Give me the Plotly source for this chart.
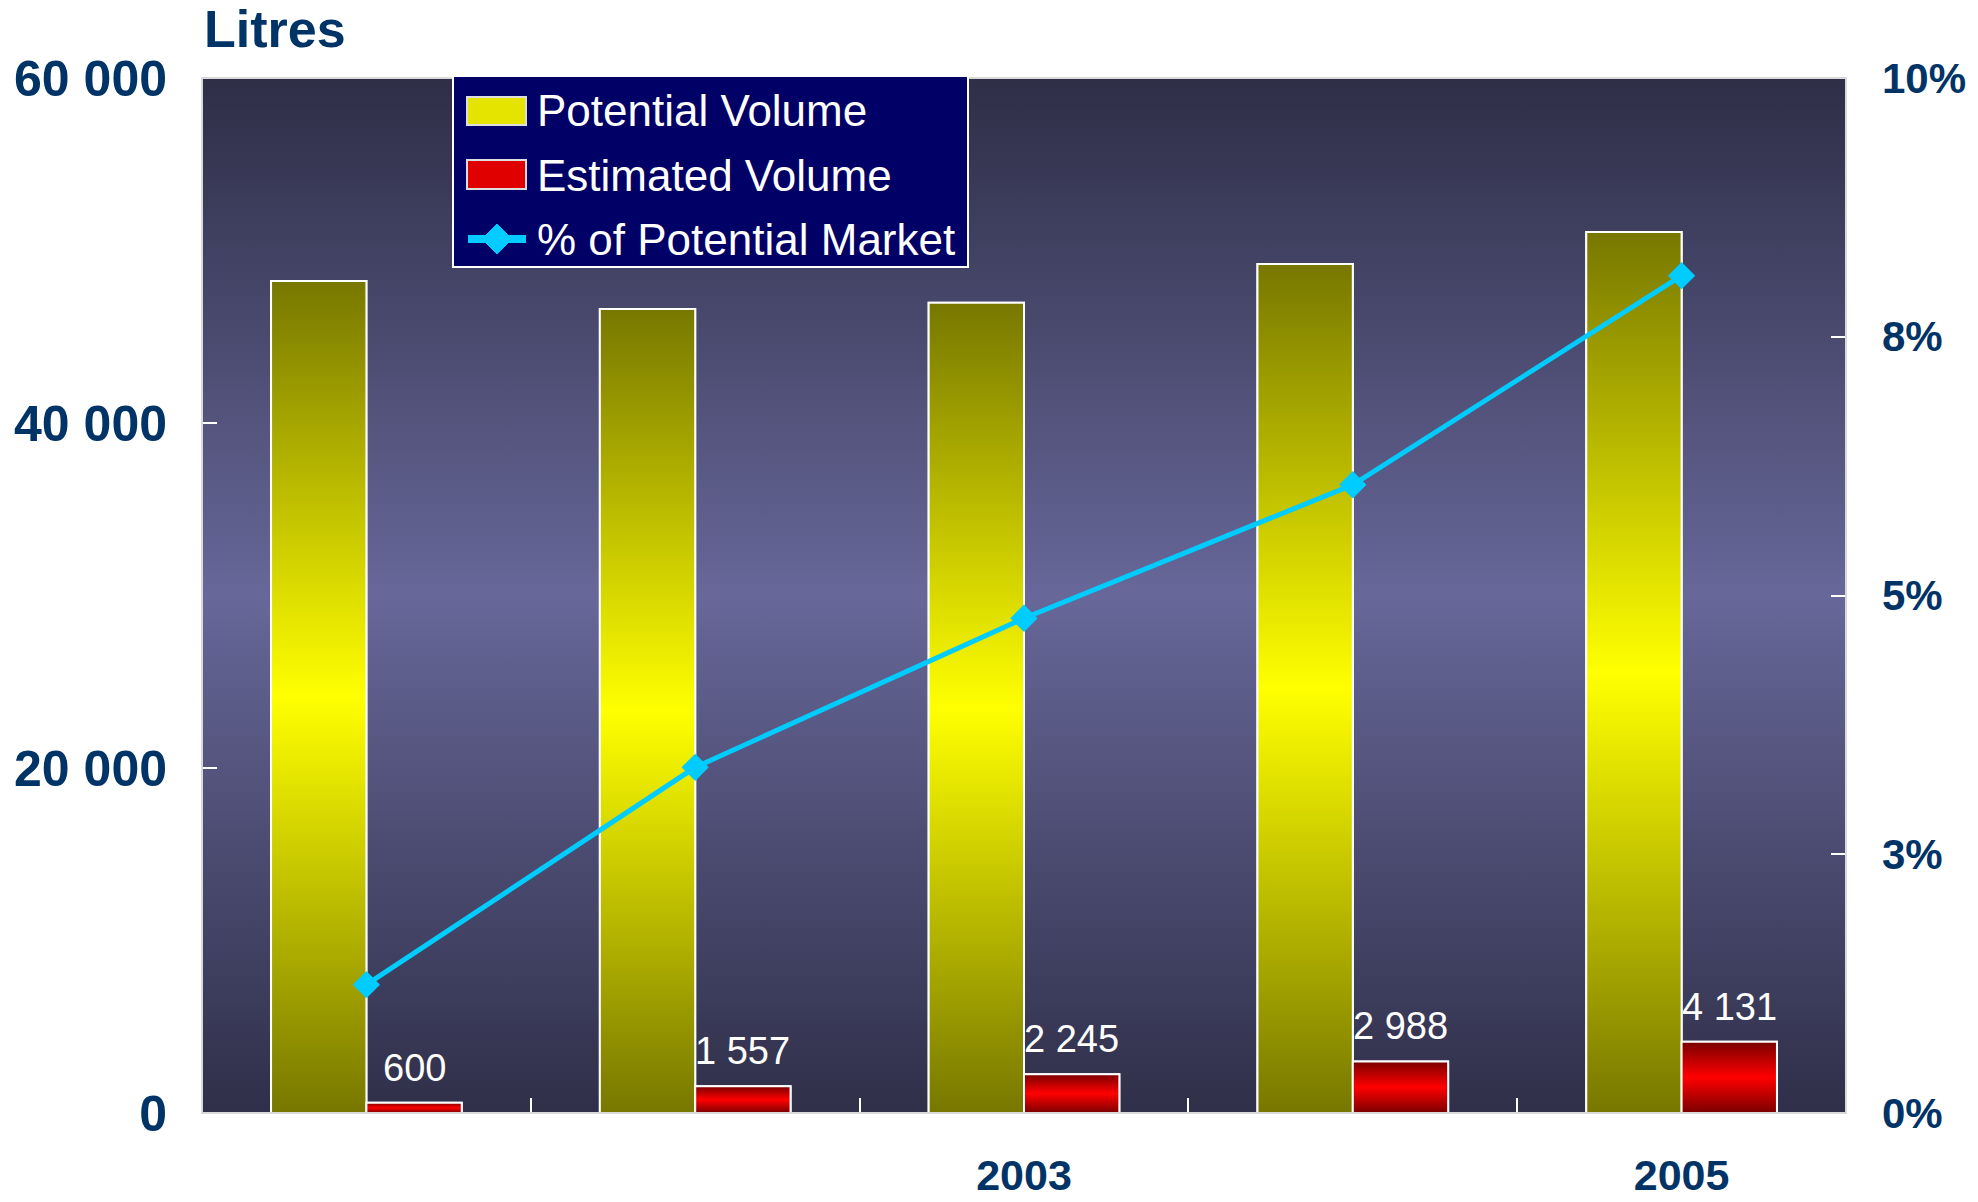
import plotly.graph_objects as go

# ---------------- data ----------------
years = ["2001", "2002", "2003", "2004", "2005"]
x_tick_labels = ["", "", "2003", "", "2005"]
potential_volume = [48230, 46610, 46970, 49220, 51070]
estimated_volume = [600, 1557, 2245, 2988, 4131]
pct_potential_market = [1.24, 3.34, 4.78, 6.07, 8.09]
left_tick_values = [0, 20000, 40000, 60000]
right_tick_values = [0, 2.5, 5, 7.5, 10]
right_tick_labels = ["0%", "3%", "5%", "8%", "10%"]
series_names = ["Potential Volume", "Estimated Volume", "% of Potential Market"]

# ---------------- style ----------------
W, H = 1978, 1202
ML, MR, MT, MB = 202, 132, 78, 89
PW, PH = W - ML - MR, H - MT - MB
FONT = "Liberation Sans, Arial, sans-serif"
NAVY = "#003366"
BW = 0.29
xs = list(range(len(years)))
x_lo, x_hi = -0.5, len(years) - 0.5

yellow_scale = [[0, "#777700"], [0.5, "#FFFF00"], [1, "#777700"]]
red_scale = [[0, "#7A0000"], [0.5, "#FF0000"], [1, "#7A0000"]]
bg_scale = [[0, "#2F2F49"], [0.5, "#676799"], [1, "#2E2E47"]]
YELLOW, RED, CYAN = "#E4E400", "#E00000", "#00CCFF"


def px_x(p):  # page pixel -> paper x
    return (p - ML) / PW


def px_y(p):  # page pixel -> paper y
    return (H - MB - p) / PH


fig = go.Figure()

# background gradient (hidden base axis)
fig.add_trace(go.Scatter(
    x=[x_lo, x_hi, x_hi, x_lo, x_lo], y=[0, 0, 1, 1, 0],
    fill="toself", mode="lines", line=dict(width=0),
    fillgradient=dict(type="vertical", colorscale=bg_scale),
    showlegend=False, hoverinfo="skip", yaxis="y",
))

# bars
fig.add_trace(go.Bar(
    x=xs, y=potential_volume, name=series_names[0],
    width=BW, offset=-BW, yaxis="y2", showlegend=False,
    marker=dict(color=YELLOW, line=dict(color="white", width=2)),
    hoverinfo="skip",
))
fig.add_trace(go.Bar(
    x=xs, y=estimated_volume, name=series_names[1],
    width=BW, offset=0, yaxis="y2", showlegend=False,
    marker=dict(color=RED, line=dict(color="white", width=2)),
    hoverinfo="skip",
))

# gradient fills drawn over each bar
for series, off, scale in [(potential_volume, -BW, yellow_scale),
                           (estimated_volume, 0, red_scale)]:
    for x, v in zip(xs, series):
        x0 = x + off
        x1 = x0 + BW
        fig.add_trace(go.Scatter(
            x=[x0, x1, x1, x0, x0], y=[0, 0, v, v, 0],
            fill="toself", mode="lines",
            line=dict(color="white", width=2),
            fillgradient=dict(type="vertical", colorscale=scale),
            showlegend=False, hoverinfo="skip", yaxis="y2",
        ))

# % line
fig.add_trace(go.Scatter(
    x=xs, y=pct_potential_market, name=series_names[2],
    mode="lines+markers", yaxis="y3", showlegend=False,
    line=dict(color=CYAN, width=5),
    marker=dict(symbol="diamond", size=21, color=CYAN),
    hoverinfo="skip",
))

# value labels above estimated bars
annotations = []
for x, v in zip(xs, estimated_volume):
    annotations.append(dict(
        x=x + BW / 2, y=v, xref="x", yref="y2", yanchor="bottom", yshift=12,
        text=f"{v:,}".replace(",", " "), showarrow=False,
        font=dict(family=FONT, size=38, color="white"),
    ))

# "Litres" title
annotations.append(dict(text="Litres", xref="paper", yref="paper", x=0, y=1,
                        xanchor="left", yanchor="middle", yshift=49, showarrow=False,
                        font=dict(family=FONT, size=52, color=NAVY, weight="bold")))

# custom legend (box, keys, labels)
shapes = [
    dict(type="rect", xref="paper", yref="paper", x0=0, x1=1, y0=0, y1=1,
         line=dict(color="#D9D9D9", width=2), layer="above"),
    dict(type="rect", xref="paper", yref="paper",
         x0=px_x(453), x1=px_x(968), y0=px_y(267), y1=px_y(76),
         fillcolor="#000066", line=dict(color="white", width=2), layer="above"),
    dict(type="rect", xref="paper", yref="paper",
         x0=px_x(467), x1=px_x(526), y0=px_y(125), y1=px_y(97),
         fillcolor=YELLOW, line=dict(color="#DDDDDD", width=2), layer="above"),
    dict(type="rect", xref="paper", yref="paper",
         x0=px_x(467), x1=px_x(526), y0=px_y(189), y1=px_y(160),
         fillcolor=RED, line=dict(color="#DDDDDD", width=2), layer="above"),
    dict(type="line", xref="paper", yref="paper",
         x0=px_x(468), x1=px_x(526), y0=px_y(239), y1=px_y(239),
         line=dict(color=CYAN, width=8), layer="above"),
    dict(type="path", xref="paper", yref="paper",
         path=(f"M {px_x(497)} {px_y(224)} L {px_x(512)} {px_y(239)} "
               f"L {px_x(497)} {px_y(254)} L {px_x(482)} {px_y(239)} Z"),
         fillcolor=CYAN, line=dict(color=CYAN, width=1), layer="above"),
]
for name, cy in zip(series_names, [111, 175, 240]):
    annotations.append(dict(
        text=name, xref="paper", yref="paper", x=px_x(535), y=px_y(cy),
        xanchor="left", yanchor="middle", showarrow=False,
        font=dict(family=FONT, size=44, color="white"),
    ))

fig.update_layout(
    width=W, height=H,
    margin=dict(l=ML, r=MR, t=MT, b=MB, autoexpand=False),
    paper_bgcolor="white", plot_bgcolor="rgba(0,0,0,0)",
    barmode="overlay",
    separators=". ",
    font=dict(family=FONT),
    showlegend=False,
    xaxis=dict(
        range=[x_lo, x_hi], tickmode="array", tickvals=xs, ticktext=x_tick_labels,
        ticks="", showgrid=False, zeroline=False, showline=False,
        tickfont=dict(family=FONT, size=43, color=NAVY, weight="bold"),
        ticklabelstandoff=33,
        minor=dict(tickmode="array", tickvals=[x + 0.5 for x in xs[:-1]],
                   ticks="inside", ticklen=15, tickcolor="white", tickwidth=2,
                   showgrid=False),
    ),
    yaxis=dict(range=[0, 1], visible=False, fixedrange=True),
    yaxis2=dict(
        overlaying="y", side="left", range=[0, 60000],
        tickmode="array", tickvals=left_tick_values, tickformat=",",
        ticks="inside", ticklen=15, tickcolor="white", tickwidth=2,
        showgrid=False, zeroline=False, showline=False,
        tickfont=dict(family=FONT, size=50, color=NAVY, weight="bold"),
        ticklabelstandoff=34,
    ),
    yaxis3=dict(
        overlaying="y", side="right", range=[0, 10],
        tickmode="array", tickvals=right_tick_values, ticktext=right_tick_labels,
        ticks="inside", ticklen=15, tickcolor="white", tickwidth=2,
        showgrid=False, zeroline=False, showline=False,
        tickfont=dict(family=FONT, size=42, color=NAVY, weight="bold"),
        ticklabelstandoff=35,
    ),
    shapes=shapes,
    annotations=annotations,
)

# remove the page's default body margin so the figure fills the window exactly
fig.write_html("out.html",
               config={"displayModeBar": False},
               post_script="document.body.style.margin='0';document.body.style.overflow='hidden';")
